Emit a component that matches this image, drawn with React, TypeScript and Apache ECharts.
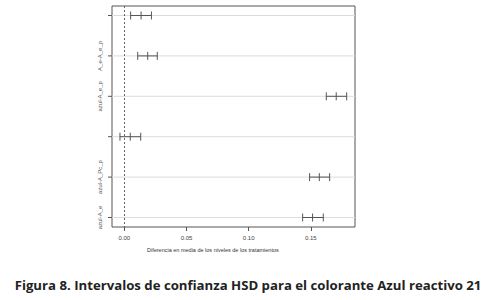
import React, { useEffect, useRef } from "react";
import * as echarts from "echarts";

const rowLabels = ["", "A_e-A_e_p", "azul-A_e_p", "", "azul-A_Pc_p", "azul-A_e"];
const lowerValues = [0.0051, 0.0108, 0.1624, -0.0035, 0.149, 0.1434];
const meanValues = [0.0135, 0.0188, 0.1704, 0.0048, 0.1568, 0.1514];
const upperValues = [0.0218, 0.0265, 0.1788, 0.0132, 0.1651, 0.16];
const xTicks = [0, 0.05, 0.1, 0.15];
const xTitle = "Diferencia en media de los niveles de los tratamientos";
const caption = "Figura 8. Intervalos de confianza HSD para el colorante Azul reactivo 21";

export default function App() {
  const ref = useRef<HTMLDivElement>(null);
  useEffect(() => {
    const chart = echarts.init(ref.current!, null, { renderer: "svg" });
    const data = rowLabels.map((_, i) => [i + 1, lowerValues[i], meanValues[i], upperValues[i]]);
    chart.setOption({
      animation: false,
      backgroundColor: "#ffffff",
      grid: {
        left: 112,
        top: 6,
        width: 243,
        height: 221,
        show: true,
        borderColor: "#555",
        borderWidth: 1,
        backgroundColor: "transparent",
      },
      xAxis: {
        type: "value",
        min: -0.0099,
        max: 0.1855,
        splitLine: { show: false },
        axisLine: { show: false },
        axisTick: { show: true, customValues: xTicks, length: 4, lineStyle: { color: "#555" } },
        axisLabel: {
          customValues: xTicks,
          formatter: (v: number) => v.toFixed(2),
          fontSize: 6,
          color: "#444",
          fontFamily: "Liberation Sans",
          margin: 8,
        },
      },
      yAxis: {
        type: "value",
        min: 0.765,
        max: 6.235,
        inverse: true,
        show: false,
      },
      series: [
        {
          type: "custom",
          data,
          encode: { x: [1, 2, 3], y: 0 },
          renderItem: (params: any, api: any) => {
            const row = api.value(0);
            const lo = api.coord([api.value(1), row]);
            const mid = api.coord([api.value(2), row]);
            const hi = api.coord([api.value(3), row]);
            const cs = params.coordSys;
            const y = lo[1];
            const h = 4;
            const stroke = { stroke: "#555", lineWidth: 1 };
            const children: any[] = [
              { type: "line", shape: { x1: cs.x, y1: y, x2: cs.x + cs.width, y2: y }, style: { stroke: "#dcdcdc", lineWidth: 1 }, z2: 0 },
              { type: "line", shape: { x1: cs.x - 4, y1: y, x2: cs.x, y2: y }, style: stroke },
              { type: "line", shape: { x1: lo[0], y1: y, x2: hi[0], y2: y }, style: stroke, z2: 2 },
              { type: "line", shape: { x1: lo[0], y1: y - h, x2: lo[0], y2: y + h }, style: stroke, z2: 2 },
              { type: "line", shape: { x1: mid[0], y1: y - h, x2: mid[0], y2: y + h }, style: stroke, z2: 2 },
              { type: "line", shape: { x1: hi[0], y1: y - h, x2: hi[0], y2: y + h }, style: stroke, z2: 2 },
            ];
            const label = rowLabels[params.dataIndex];
            if (label) {
              children.push({
                type: "text",
                x: cs.x - 12,
                y: y,
                rotation: Math.PI / 2,
                style: {
                  text: label,
                  fontSize: 6,
                  fontFamily: "Liberation Sans",
                  fill: "#555",
                  align: "center",
                  verticalAlign: "middle",
                },
              });
            }
            return { type: "group", children };
          },
          markLine: {
            silent: true,
            symbol: "none",
            label: { show: false },
            lineStyle: { type: [2, 2], color: "#666", width: 1 },
            data: [{ xAxis: 0 }],
          },
        },
      ],
      graphic: [
        {
          type: "text",
          left: 147,
          top: 247,
          style: { text: xTitle, fontSize: 5.5, fontFamily: "Liberation Sans", fill: "#333" },
        },
        {
          type: "text",
          x: 248,
          y: 285,
          style: {
            text: caption,
            fontSize: 13.2,
            fontWeight: "bold",
            fontFamily: "Open Sans",
            fill: "#222",
            align: "center",
            verticalAlign: "middle",
          },
        },
      ],
    });
    return () => chart.dispose();
  }, []);
  return <div ref={ref} style={{ position: "absolute", left: 0, top: 0, width: 494, height: 300 }} />;
}
